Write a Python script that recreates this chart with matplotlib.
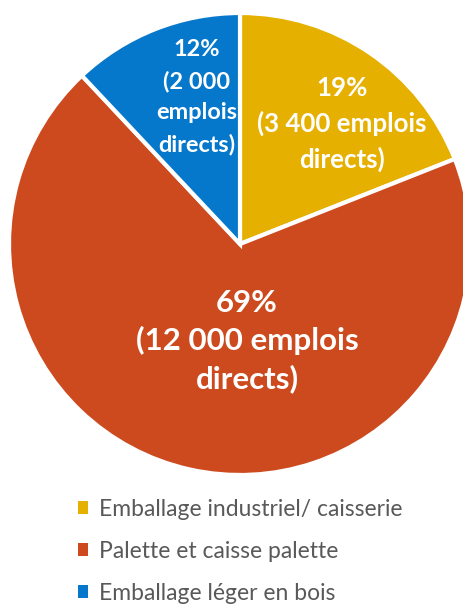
import matplotlib
matplotlib.use('Agg')
import matplotlib.pyplot as plt
from matplotlib.patches import Patch

categories = ['Emballage industriel/ caisserie', 'Palette et caisse palette', 'Emballage léger en bois']
shares = [19, 69, 12]
jobs = ['3 400', '12 000', '2 000']
colors = ['#E6B000', '#CC4A1E', '#0578CC']

W, H = 464, 609
fig = plt.figure(figsize=(W / 100, H / 100), dpi=100)

# pie centre (240, 244) px, radius 231 px
cx, cy, r = 240, 244, 231
ax = fig.add_axes([(cx - r) / W, (H - cy - r) / H, 2 * r / W, 2 * r / H])
wedges, _ = ax.pie(shares, colors=colors, startangle=90, counterclock=False,
                   radius=1, wedgeprops=dict(edgecolor='white', linewidth=3))
ax.set_xlim(-1, 1)
ax.set_ylim(-1, 1)
ax.set_aspect('equal')
ax.axis('off')

# label text and positions (axes data units)
label_text = [
    f'{shares[0]}%\n({jobs[0]} emplois\ndirects)',
    f'{shares[1]}%\n({jobs[1]} emplois\ndirects)',
    f'{shares[2]}%\n({jobs[2]}\nemplois\ndirects)',
]
label_pos = [((342 - cx) / r, (cy - 124) / r),
             ((247 - cx) / r, (cy - 341) / r),
             ((197 - cx) / r, (cy - 97) / r)]
label_size = [18.6, 22.5, 16.9]
label_spacing = [1.5, 1.36, 1.6]
for txt, (x, y), fs, ls in zip(label_text, label_pos, label_size, label_spacing):
    ax.text(x, y, txt, ha='center', va='center', color='white', fontsize=fs,
            fontweight='bold', family='Lato', linespacing=ls)

handles = [Patch(facecolor=c, edgecolor='none') for c in colors]
fig.legend(handles, categories, loc='upper left', bbox_to_anchor=(57 / W, 1 - 478 / H),
           frameon=False, prop={'family': 'Lato', 'size': 16.5}, labelcolor='#595959',
           handlelength=0.45, handleheight=0.45, handletextpad=0.5, labelspacing=0.92)

fig.savefig('out.png', dpi=100)
